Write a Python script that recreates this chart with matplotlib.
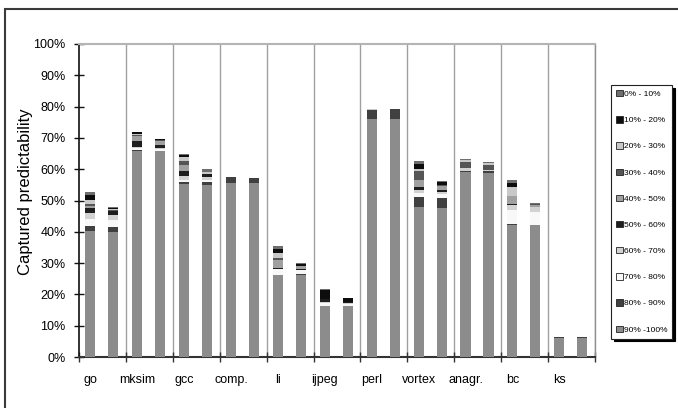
import matplotlib
matplotlib.use("Agg")
import matplotlib.pyplot as plt
from matplotlib.patches import Rectangle, Patch
from matplotlib import font_manager as fm
import numpy as np

plt.rcParams['font.family'] = ['Liberation Sans', 'DejaVu Sans']

benchmarks = ["go", "mksim", "gcc", "comp.", "li", "ijpeg", "perl", "vortex", "anagr.", "bc", "ks"]
series_labels = ["0% - 10%", "10% - 20%", "20% - 30%", "30% - 40%", "40% - 50%",
                 "50% - 60%", "60% - 70%", "70% - 80%", "80% - 90%", "90% -100%"]
y_ticks = [0, 10, 20, 30, 40, 50, 60, 70, 80, 90, 100]

# two bars per benchmark (values in %), bottom segment = 90%-100%
seg_90_100 = [40.3, 39.9, 65.8, 65.8, 55.3, 55.0, 55.7, 55.7, 26.2, 26.2, 16.3, 16.3,
              76.0, 76.0, 47.9, 47.6, 59.1, 58.8, 42.3, 42.2, 6.1, 6.1]
seg_80_90 = [1.6, 1.6, 0.4, 0.1, 0.6, 1.0, 1.8, 1.5, 0.0, 0.3, 0.0, 0.0,
             2.9, 3.2, 3.2, 3.2, 0.4, 0.7, 0.3, 0.0, 0.3, 0.3]
seg_70_80 = [2.2, 2.4, 0.6, 0.6, 0.5, 0.6, 0, 0, 1.8, 1.3, 0.8, 0.6,
             0, 0, 1.3, 1.3, 0, 0, 4.3, 4.1, 0, 0]
seg_60_70 = [1.9, 1.5, 0.2, 0.2, 1.4, 0.9, 0, 0, 0, 0, 0.6, 0.4,
             0, 0, 0.9, 0.6, 0.9, 0.2, 1.7, 1.6, 0, 0]
seg_50_60 = [1.6, 1.1, 1.9, 1.1, 1.7, 1.1, 0, 0, 0.4, 0.3, 0.7, 0.3,
             0, 0, 1.1, 0.6, 0, 0, 0.3, 0, 0, 0]
seg_40_50 = [0.7, 0.3, 1.7, 1.2, 1.8, 0, 0, 0, 2.6, 1.0, 0, 0,
             0, 0, 2.1, 1.3, 0, 0, 2.5, 0.6, 0, 0]
seg_30_40 = [0.6, 0.2, 0.2, 0.2, 1.4, 0, 0, 0, 0.6, 0, 0, 0,
             0, 0, 2.9, 0.4, 1.9, 1.6, 0, 0.3, 0, 0]
seg_20_30 = [1.3, 0.2, 0.5, 0.1, 1.3, 0.5, 0, 0, 1.5, 0, 0, 0,
             0.3, 0, 0.7, 0, 0.6, 0.7, 2.9, 0, 0, 0]
seg_10_20 = [1.7, 0.3, 0.5, 0.3, 0.6, 0, 0, 0, 1.4, 0.6, 3.0, 1.2,
             0, 0, 1.6, 0.9, 0, 0, 1.3, 0, 0, 0]
seg_0_10 = [0.8, 0.3, 0.2, 0, 0.3, 1.0, 0, 0, 1.0, 0.3, 0.3, 0,
            0, 0, 0.9, 0.3, 0.4, 0.3, 0.9, 0.4, 0, 0]

series = [seg_0_10, seg_10_20, seg_20_30, seg_30_40, seg_40_50,
          seg_50_60, seg_60_70, seg_70_80, seg_80_90, seg_90_100]
colors = ["#6e6e6e", "#0d0d0d", "#c8c8c8", "#555555", "#a0a0a0",
          "#1e1e1e", "#d2d2d2", "#f8f8f8", "#404040", "#8c8c8c"]

W, H = 678, 408
fig = plt.figure(figsize=(W / 100, H / 100), dpi=100)
ax = fig.add_axes([79 / W, 1 - 357 / H, (595 - 79) / W, (357 - 44) / H])

n = len(benchmarks)
idx = np.arange(n)
xpos = np.empty(2 * n)
xpos[0::2] = idx + 0.24
xpos[1::2] = idx + 0.73
bw = 0.215

bottom = np.zeros(2 * n)
for k in range(len(series) - 1, -1, -1):
    vals = np.array(series[k], dtype=float)
    ax.bar(xpos, vals, bw, bottom=bottom, color=colors[k], linewidth=0, zorder=3)
    bottom += vals

ax.set_xlim(0, n)
ax.set_ylim(0, 100)
ax.set_yticks(y_ticks)
ax.set_yticklabels([f"{t}%" for t in y_ticks], fontsize=9)
ax.set_xticks(np.arange(n + 1))
ax.set_xticklabels([])
ax.set_xticks(xpos[0::2], minor=True)
ax.set_xticklabels(benchmarks, minor=True, fontsize=9)
ax.tick_params(axis='x', which='minor', length=0, pad=12)
ax.tick_params(axis='x', which='major', direction='inout', length=7, width=1, color='#333333')
ax.tick_params(axis='y', direction='inout', length=7, width=1, color='#111111', pad=6)

for xb in range(1, n + 1):
    ax.axvline(xb, color='#a0a0a0', lw=1.0, zorder=1)

ax.spines['left'].set_color('#111111')
ax.spines['left'].set_linewidth(1.2)
ax.spines['bottom'].set_color('#333333')
ax.spines['bottom'].set_linewidth(1.5)
ax.spines['top'].set_color('#b4b4b4')
ax.spines['top'].set_linewidth(1.5)
ax.spines['right'].set_color('#909090')
ax.spines['right'].set_linewidth(1.0)

ax.set_ylabel("Captured predictability", fontsize=12)
ax.yaxis.set_label_coords((33 - 79) / 516, (357 - 192) / 313)

# legend font: condensed if available
avail = {f.name for f in fm.fontManager.ttflist}
if 'Liberation Sans Narrow' in avail:
    leg_family, leg_size = ['Liberation Sans Narrow', 'DejaVu Sans'], 7.2
else:
    leg_family, leg_size = ['Liberation Sans', 'DejaVu Sans'], 6.0

leg_handles = [Patch(facecolor=colors[k], edgecolor='#222222', linewidth=0.6) for k in range(len(series))]
leg = fig.legend(leg_handles, series_labels, loc='upper left',
                 bbox_to_anchor=(611 / W, 1 - 85 / H), bbox_transform=fig.transFigure,
                 prop={'family': leg_family, 'size': leg_size},
                 frameon=True, fancybox=False, shadow={'color': 'black', 'alpha': 1},
                 handlelength=0.8, handleheight=0.8, handletextpad=0.15,
                 labelspacing=2.17, borderpad=0.6, borderaxespad=0)
leg.get_frame().set_edgecolor('#222222')
leg.get_frame().set_linewidth(0.8)

# outer frame
fig.patches.append(Rectangle((5 / W, -0.2), 1.5, 1 - 9 / H + 0.2, transform=fig.transFigure,
                             fill=False, edgecolor='#3a3a3a', linewidth=1.5))

fig.savefig("out.png", dpi=100)
